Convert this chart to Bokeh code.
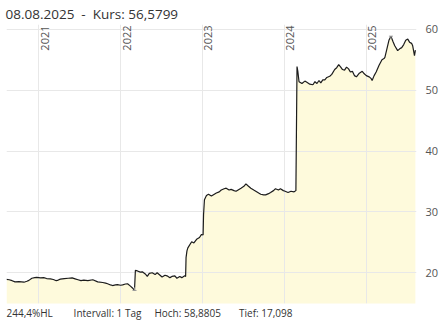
import pandas as pd
from math import pi
from bokeh.plotting import figure
from bokeh.models import FixedTicker, Range1d, Title
from bokeh.core.properties import value
from bokeh.embed import file_html
from bokeh.resources import INLINE

# ---- data ----
dates = [
    "2020-08-10", "2020-08-22", "2020-09-04", "2020-09-17", "2020-10-05", "2020-10-27",
    "2020-11-09", "2020-11-18", "2020-12-01", "2020-12-14", "2020-12-23", "2021-01-09",
    "2021-01-23", "2021-02-05", "2021-02-22", "2021-03-07", "2021-03-20", "2021-03-29",
    "2021-04-07", "2021-04-25", "2021-05-12", "2021-05-30", "2021-06-12", "2021-06-25",
    "2021-07-08", "2021-07-21", "2021-08-08", "2021-08-30", "2021-09-21", "2021-10-13",
    "2021-10-26", "2021-11-04", "2021-11-17", "2021-11-26", "2021-12-09", "2021-12-18",
    "2022-01-01", "2022-01-10", "2022-01-23", "2022-02-01", "2022-02-14", "2022-02-23",
    "2022-03-04", "2022-03-08", "2022-03-17", "2022-03-30", "2022-04-08", "2022-04-21",
    "2022-04-30", "2022-05-09", "2022-05-22", "2022-06-04", "2022-06-13", "2022-06-26",
    "2022-07-05", "2022-07-18", "2022-07-27", "2022-08-09", "2022-08-18", "2022-08-31",
    "2022-09-09", "2022-09-22", "2022-10-01", "2022-10-14", "2022-10-18", "2022-10-20",
    "2022-10-24", "2022-10-28", "2022-11-14", "2022-11-24", "2022-12-06", "2022-12-19",
    "2022-12-28", "2023-01-04", "2023-01-06", "2023-01-10", "2023-01-19", "2023-01-28",
    "2023-02-10", "2023-02-23", "2023-03-04", "2023-03-17", "2023-03-26", "2023-04-08",
    "2023-04-17", "2023-04-30", "2023-05-09", "2023-05-22", "2023-05-31", "2023-06-13",
    "2023-06-22", "2023-07-05", "2023-07-14", "2023-07-23", "2023-08-05", "2023-08-18",
    "2023-08-27", "2023-09-09", "2023-09-18", "2023-10-01", "2023-10-10", "2023-10-23",
    "2023-11-01", "2023-11-14", "2023-11-23", "2023-12-06", "2023-12-15", "2023-12-28",
    "2024-01-05", "2024-01-18", "2024-01-31", "2024-02-14", "2024-02-22", "2024-02-27",
    "2024-03-02", "2024-03-07", "2024-03-20", "2024-04-02", "2024-04-11", "2024-04-24",
    "2024-05-08", "2024-05-17", "2024-05-26", "2024-06-04", "2024-06-12", "2024-06-21",
    "2024-06-30", "2024-07-09", "2024-07-22", "2024-07-31", "2024-08-13", "2024-08-22",
    "2024-08-31", "2024-09-09", "2024-09-17", "2024-09-26", "2024-10-05", "2024-10-14",
    "2024-10-22", "2024-10-31", "2024-11-09", "2024-11-18", "2024-12-01", "2024-12-14",
    "2024-12-23", "2025-01-01", "2025-01-14", "2025-01-23", "2025-01-27", "2025-02-05",
    "2025-02-14", "2025-02-27", "2025-03-12", "2025-03-21", "2025-03-25", "2025-04-03",
    "2025-04-12", "2025-04-21", "2025-04-30", "2025-05-08", "2025-05-21", "2025-05-30",
    "2025-06-08", "2025-06-17", "2025-06-26", "2025-07-05", "2025-07-13", "2025-07-22",
    "2025-07-27", "2025-08-04", "2025-08-08",
]
prices = [
    18.9, 18.85, 18.7, 18.5, 18.55, 18.45,
    18.6, 18.75, 19.1, 19.2, 19.25, 19.15,
    19.2, 19.05, 19.0, 18.9, 18.7, 18.8,
    18.95, 19.05, 19.1, 19.15, 19.0, 18.85,
    18.7, 18.8, 18.7, 18.85, 18.5, 18.4,
    18.3, 18.2, 18.0, 17.9, 18.0, 18.05,
    17.95, 18.0, 18.15, 18.2, 17.8, 17.5,
    17.098, 20.4, 20.3, 20.1, 20.15, 19.8,
    19.4, 19.9, 20.0, 19.7, 20.0, 19.6,
    19.3, 19.6, 19.5, 19.2, 19.4, 19.5,
    19.1, 19.4, 19.2, 19.5, 19.4, 22.5,
    23.6, 24.1, 25.1, 24.9, 25.5, 25.8,
    26.3, 26.2, 29.5, 32.0, 32.7, 32.9,
    32.6, 32.9, 33.1, 33.3, 33.6, 33.8,
    33.9, 33.6, 33.7, 33.5, 33.4, 33.7,
    33.9, 34.2, 34.6, 34.3, 33.9, 33.6,
    33.4, 33.1, 32.9, 32.8, 32.8, 33.0,
    33.2, 33.5, 33.8, 33.6, 33.8, 33.5,
    33.4, 33.2, 33.4, 33.3, 33.5, 53.9,
    53.0, 51.4, 51.1, 51.5, 51.3, 51.0,
    50.9, 51.4, 51.1, 51.6, 51.2, 51.7,
    51.7, 52.1, 52.3, 52.6, 53.4, 53.7,
    54.2, 53.8, 53.4, 53.3, 53.8, 53.5,
    53.0, 53.1, 52.4, 52.2, 52.8, 53.1,
    52.7, 52.4, 52.2, 51.9, 51.6, 52.4,
    53.0, 54.1, 55.0, 55.2, 55.4, 56.8,
    58.2, 58.8805, 58.0, 57.3, 56.5, 56.8,
    57.0, 57.5, 58.2, 58.4, 57.9, 57.7,
    57.3, 55.7, 56.5799,
]
year_labels = ["2021", "2022", "2023", "2024", "2025"]
y_ticks = [20, 30, 40, 50, 60]
title_text = "08.08.2025\u00a0\u00a0-\u00a0\u00a0Kurs: 56,5799"
footer_parts = ["244,4%HL", "Intervall: 1 Tag", "Hoch: 58,8805", "Tief: 17,098"]
footer_gaps = [8, 5, 7]  # non-breaking spaces between footer parts

# ---- chart ----
x = pd.to_datetime(dates)
year_x = pd.to_datetime([f"{y}-01-01" for y in year_labels])
year_ms = [int(t.value // 10**6) for t in year_x]

y_start, y_end = 14.95, 60.8
p = figure(
    width=441, height=320, x_axis_type="datetime", y_axis_location="right",
    output_backend="svg", toolbar_location=None,
    x_range=Range1d(x[0].to_pydatetime(), (x[-1] + pd.Timedelta(days=5)).to_pydatetime()),
    y_range=Range1d(y_start, y_end),
    min_border_left=6, min_border_right=0, min_border_top=23, min_border_bottom=17,
    background_fill_color="white", border_fill_color="white", outline_line_color=None,
)

p.varea(x=x, y1=0, y2=prices, fill_color="#FEFADC", level="image")
p.line(x, prices, line_color="#1c1c1c", line_width=1.2)

# high / low markers
i_hi = max(range(len(prices)), key=lambda i: prices[i])
i_lo = min(range(len(prices)), key=lambda i: prices[i])
d = pd.Timedelta(days=9)
p.segment(x0=[x[i_hi] - d, x[i_lo] - d], y0=[prices[i_hi], prices[i_lo]],
          x1=[x[i_hi] + d, x[i_lo] + d], y1=[prices[i_hi], prices[i_lo]],
          line_color="#999999", line_width=1)
p.segment(x0=[x[i_hi], x[i_lo]], y0=[prices[i_hi], prices[i_lo]],
          x1=[x[i_hi], x[i_lo]], y1=[prices[i_hi] - 0.5, prices[i_lo] + 0.5],
          line_color="#999999", line_width=1)

p.text(x=year_x, y=[y_end] * len(year_labels), text=year_labels, angle=pi / 2,
       text_align="right", text_baseline="top", x_offset=2, y_offset=1,
       text_font_size="11px", text_color="#555555", text_font=value("Open Sans"))

p.xaxis.visible = False
p.xgrid.ticker = FixedTicker(ticks=year_ms)
p.ygrid.ticker = FixedTicker(ticks=y_ticks)
p.xgrid.grid_line_color = "#e8e8e8"
p.ygrid.grid_line_color = "#e8e8e8"

ax = p.yaxis[0]
ax.ticker = FixedTicker(ticks=y_ticks)
ax.axis_line_color = None
ax.major_tick_line_color = None
ax.minor_tick_line_color = None
ax.major_label_standoff = 3
ax.major_label_text_font_size = "11px"
ax.major_label_text_font = "Open Sans"
ax.major_label_text_color = "#555555"

p.title.text = title_text
p.title.text_font = "Open Sans"
p.title.text_font_size = "13.5px"
p.title.text_font_style = "normal"
p.title.text_color = "#333333"
p.title.align = "left"
p.title.offset = -1
p.title.standoff = 4

nb = "\u00a0"
footer = footer_parts[0]
for gap, part in zip(footer_gaps, footer_parts[1:]):
    footer += nb * gap + part
p.add_layout(Title(text=footer, text_font="Open Sans", text_font_size="10px",
                   text_font_style="normal", text_color="#333333", align="left",
                   standoff=0), "below")

open("out.html", "w").write(file_html(p, INLINE))
